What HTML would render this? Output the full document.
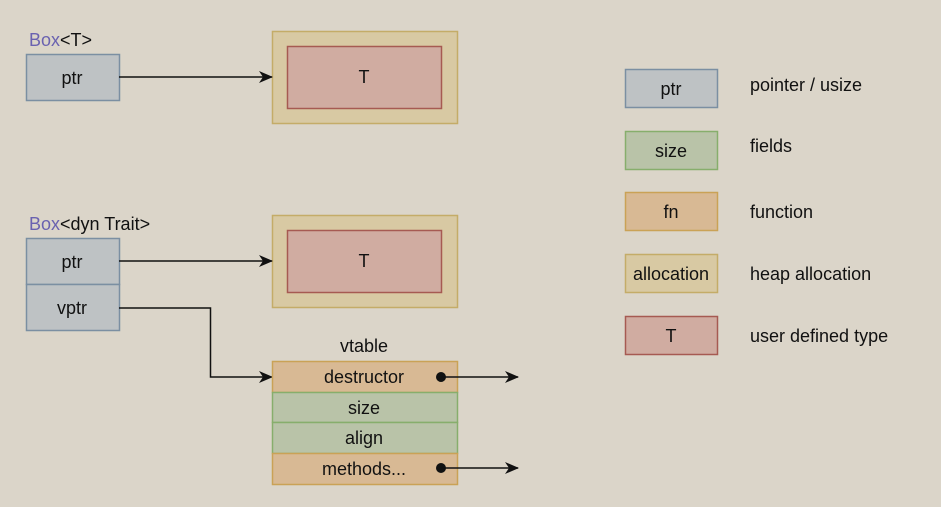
<!DOCTYPE html>
<html><head><style>
body{margin:0;background:#dbd5c9;}
svg{display:block;font-family:"Liberation Sans",Arial,sans-serif;}
</style></head><body>
<svg width="941" height="507" viewBox="0 0 941 507">
<defs>
<marker id="a" markerWidth="14" markerHeight="12" refX="13" refY="6" orient="auto" markerUnits="userSpaceOnUse">
<path d="M0,0 L14,6 L0,12 L4,6 Z" fill="#111"/></marker>
</defs>
<rect width="941" height="507" fill="#dbd5c9"/>
<g font-size="18" fill="#111">
<text x="29" y="46"><tspan fill="#6a62b0">Box</tspan>&lt;T&gt;</text>
<rect x="26.5" y="54.5" width="93" height="46" fill="#bec2c4" stroke="#7b8fa2" stroke-width="1.5"/>
<text x="72" y="84" text-anchor="middle">ptr</text>
<rect x="272.5" y="31.5" width="185" height="92" fill="#d8c9a3" stroke="#c4ac68" stroke-width="1.5"/>
<rect x="287.5" y="46.5" width="154" height="62" fill="#d0aca1" stroke="#a65a52" stroke-width="1.5"/>
<text x="364" y="83" text-anchor="middle">T</text>
<line x1="119" y1="77" x2="272" y2="77" stroke="#111" stroke-width="1.5" marker-end="url(#a)"/>

<text x="29" y="230"><tspan fill="#6a62b0">Box</tspan>&lt;dyn Trait&gt;</text>
<rect x="26.5" y="238.5" width="93" height="46" fill="#bec2c4" stroke="#7b8fa2" stroke-width="1.5"/>
<text x="72" y="268" text-anchor="middle">ptr</text>
<rect x="26.5" y="284.5" width="93" height="46" fill="#bec2c4" stroke="#7b8fa2" stroke-width="1.5"/>
<text x="72" y="314" text-anchor="middle">vptr</text>
<rect x="272.5" y="215.5" width="185" height="92" fill="#d8c9a3" stroke="#c4ac68" stroke-width="1.5"/>
<rect x="287.5" y="230.5" width="154" height="62" fill="#d0aca1" stroke="#a65a52" stroke-width="1.5"/>
<text x="364" y="267" text-anchor="middle">T</text>
<line x1="119" y1="261" x2="272" y2="261" stroke="#111" stroke-width="1.5" marker-end="url(#a)"/>
<polyline points="119,308 210.5,308 210.5,377 272,377" fill="none" stroke="#111" stroke-width="1.5" marker-end="url(#a)"/>

<text x="364" y="352" text-anchor="middle">vtable</text>
<rect x="272.5" y="361.5" width="185" height="31" fill="#d8b994" stroke="#caa256" stroke-width="1.5"/>
<rect x="272.5" y="392.5" width="185" height="30" fill="#b9c3a8" stroke="#87ae6c" stroke-width="1.5"/>
<rect x="272.5" y="422.5" width="185" height="31" fill="#b9c3a8" stroke="#87ae6c" stroke-width="1.5"/>
<rect x="272.5" y="453.5" width="185" height="31" fill="#d8b994" stroke="#caa256" stroke-width="1.5"/>
<text x="364" y="383" text-anchor="middle">destructor</text>
<text x="364" y="414" text-anchor="middle">size</text>
<text x="364" y="444" text-anchor="middle">align</text>
<text x="364" y="475" text-anchor="middle">methods...</text>
<circle cx="441" cy="377" r="5" fill="#111"/>
<circle cx="441" cy="468" r="5" fill="#111"/>
<line x1="441" y1="377" x2="518" y2="377" stroke="#111" stroke-width="1.5" marker-end="url(#a)"/>
<line x1="441" y1="468" x2="518" y2="468" stroke="#111" stroke-width="1.5" marker-end="url(#a)"/>

<rect x="625.5" y="69.5" width="92" height="38" fill="#bec2c4" stroke="#7b8fa2" stroke-width="1.5"/>
<text x="671" y="95" text-anchor="middle">ptr</text>
<text x="750" y="91">pointer / usize</text>
<rect x="625.5" y="131.5" width="92" height="38" fill="#b9c3a8" stroke="#87ae6c" stroke-width="1.5"/>
<text x="671" y="157" text-anchor="middle">size</text>
<text x="750" y="152">fields</text>
<rect x="625.5" y="192.5" width="92" height="38" fill="#d8b994" stroke="#caa256" stroke-width="1.5"/>
<text x="671" y="218" text-anchor="middle">fn</text>
<text x="750" y="218">function</text>
<rect x="625.5" y="254.5" width="92" height="38" fill="#d8c9a3" stroke="#c4ac68" stroke-width="1.5"/>
<text x="671" y="280" text-anchor="middle">allocation</text>
<text x="750" y="280">heap allocation</text>
<rect x="625.5" y="316.5" width="92" height="38" fill="#d0aca1" stroke="#a65a52" stroke-width="1.5"/>
<text x="671" y="342" text-anchor="middle">T</text>
<text x="750" y="342">user defined type</text>
</g>
</svg>
</body></html>
